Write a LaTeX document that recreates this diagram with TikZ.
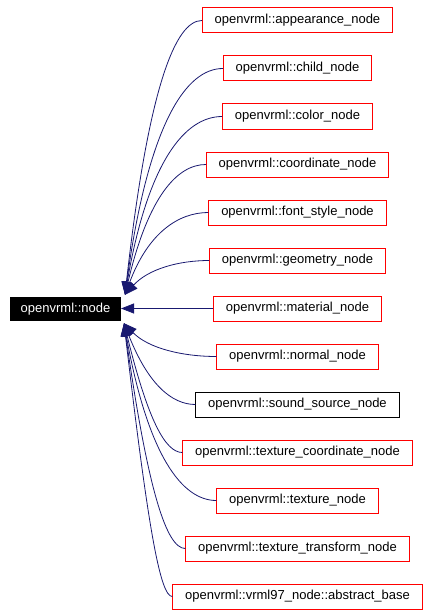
\documentclass[tikz,border=0pt]{standalone}
\usepackage{fontspec}
\setmainfont{Liberation Sans}
\usetikzlibrary{positioning}
\usetikzlibrary{calc}
\usetikzlibrary{arrows.meta}

\definecolor{edgeblue}{HTML}{191970}

\begin{document}
\begin{tikzpicture}[x=1pt,y=-1pt,
    font=\fontsize{13}{15}\selectfont,
    cls/.style={draw=red,line width=1pt,inner xsep=12.3pt,minimum height=25pt},
    base/.style={fill=black,text=white,inner xsep=10.5pt,minimum height=24pt},
    inherit/.style={draw=edgeblue,line width=0.8pt,-{Triangle[length=13pt,width=10pt]}}]
  \useasboundingbox (0,0) rectangle (431,615);
  \node[base] (node) at (65.5,309) {openvrml::node};
  \coordinate (vline) at (148,0);
  \coordinate (tipup) at ($(node.north east)+(4,-2)$);
  \coordinate (tipdn) at ($(node.south east)+(3,2)$);
  \foreach \name/\col [count=\i] in {appearance\_node/red, child\_node/red,
      color\_node/red, coordinate\_node/red, font\_style\_node/red,
      geometry\_node/red, material\_node/red, normal\_node/red,
      sound\_source\_node/black, texture\_coordinate\_node/red,
      texture\_node/red, texture\_transform\_node/red,
      vrml97\_node::abstract\_base/red}
    \node[cls,draw=\col] (c\i) at (297.5,{20.5+48*(\i-1)}) {openvrml::\name};
  % upper fan
  \foreach \i in {1,...,6}
    \draw[inherit] (c\i.west)
      .. controls ($(c\i.west)!0.5!(c\i.west -| vline)$)
      and ($(c\i.west -| vline)!0.25!(tipup -| vline)$) .. (tipup);
  \draw[inherit] (c7.west) -- (node.east |- c7.west);
  % lower fan
  \foreach \i in {8,...,13}
    \draw[inherit] (c\i.west)
      .. controls ($(c\i.west)!0.5!(c\i.west -| vline)$)
      and ($(c\i.west -| vline)!0.25!(tipdn -| vline)$) .. (tipdn);
\end{tikzpicture}
\end{document}
